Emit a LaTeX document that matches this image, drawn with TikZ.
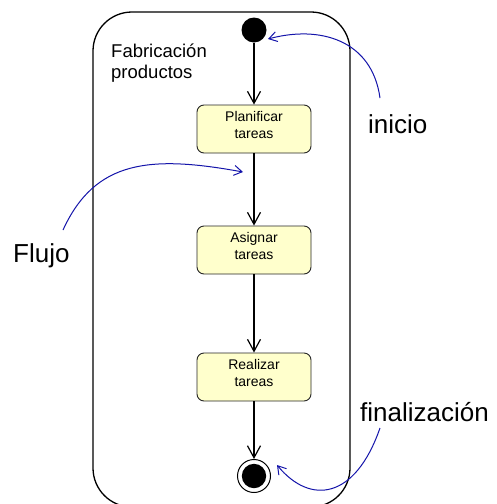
\documentclass[tikz,border=0pt]{standalone}
\usepackage{fontspec}
\setmainfont{Liberation Sans}
\usetikzlibrary{arrows.meta}
\definecolor{boxfill}{RGB}{255,255,204}
\definecolor{notecol}{RGB}{20,20,170}
\tikzset{
  actbox/.style={draw=black!85, fill=boxfill, rounded corners=7pt, line width=0.9pt,
    minimum width=114pt, minimum height=48pt, align=center, inner sep=0pt,
    font=\fontsize{14}{17}\selectfont},
  startdot/.style={circle, fill=black, minimum size=25pt, inner sep=0pt},
  enddot/.style={circle, draw=black, line width=1pt, minimum size=33pt, inner sep=0pt,
    path picture={\fill[black] (path picture bounding box.center) circle (12.2pt);}},
  flow/.style={line width=1.3pt, -{Straight Barb[length=12pt,width=13pt,line width=1.2pt]}},
  note/.style={draw=notecol, line width=1pt, -{Straight Barb[length=8pt,width=10pt,line width=1pt]}},
  notetext/.style={font=\fontsize{26}{30}\selectfont, inner sep=0pt, anchor=base west},
}
\begin{document}
\begin{tikzpicture}[x=1pt,y=-1pt]
\useasboundingbox (0,0) rectangle (496,504);
\fill[white] (0,0) rectangle (496,504);
\begin{scope}
\clip (0,0) rectangle (496,504);
\draw[line width=1.3pt, rounded corners=39pt] (93,12) rectangle (350,507);
\end{scope}
\node[inner sep=0pt, anchor=base west, align=left, font=\fontsize{18.5}{21}\selectfont] (title) at (111,78) {Fabricación\\productos};
\node[startdot] (ini) at (254,30) {};
\node[actbox] (plan) at (254,129) {Planificar\\tareas\rule[-9pt]{0pt}{0pt}};
\node[actbox] (asig) at (254,250) {Asignar\\tareas\rule[-9pt]{0pt}{0pt}};
\node[actbox] (real) at (254,377) {Realizar\\tareas\rule[-9pt]{0pt}{0pt}};
\node[enddot] (fin) at (254,476) {};
\draw[flow] (ini) -- (plan);
\draw[flow] (plan) -- (asig);
\draw[flow] (asig) -- (real);
\draw[flow] (real) -- (fin);
\node[notetext] (linicio) at (368,133) {inicio};
\node[notetext] (lflujo) at (13,262) {Flujo};
\node[notetext] (lfin) at (360,421) {finalización};
\coordinate (cini) at (380,98);
\coordinate (tini) at (268,39);
\coordinate (cflu) at (63,230);
\coordinate (tflu) at (243,172);
\coordinate (cfin) at (380,428);
\coordinate (tfin) at (277,465);
\draw[note] (cini) .. controls (372,40) and (320,25) .. (tini);
\draw[note] (cflu) .. controls (95,160) and (150,155) .. (tflu);
\draw[note] (cfin) .. controls (355,500) and (310,505) .. (tfin);
\end{tikzpicture}
\end{document}
